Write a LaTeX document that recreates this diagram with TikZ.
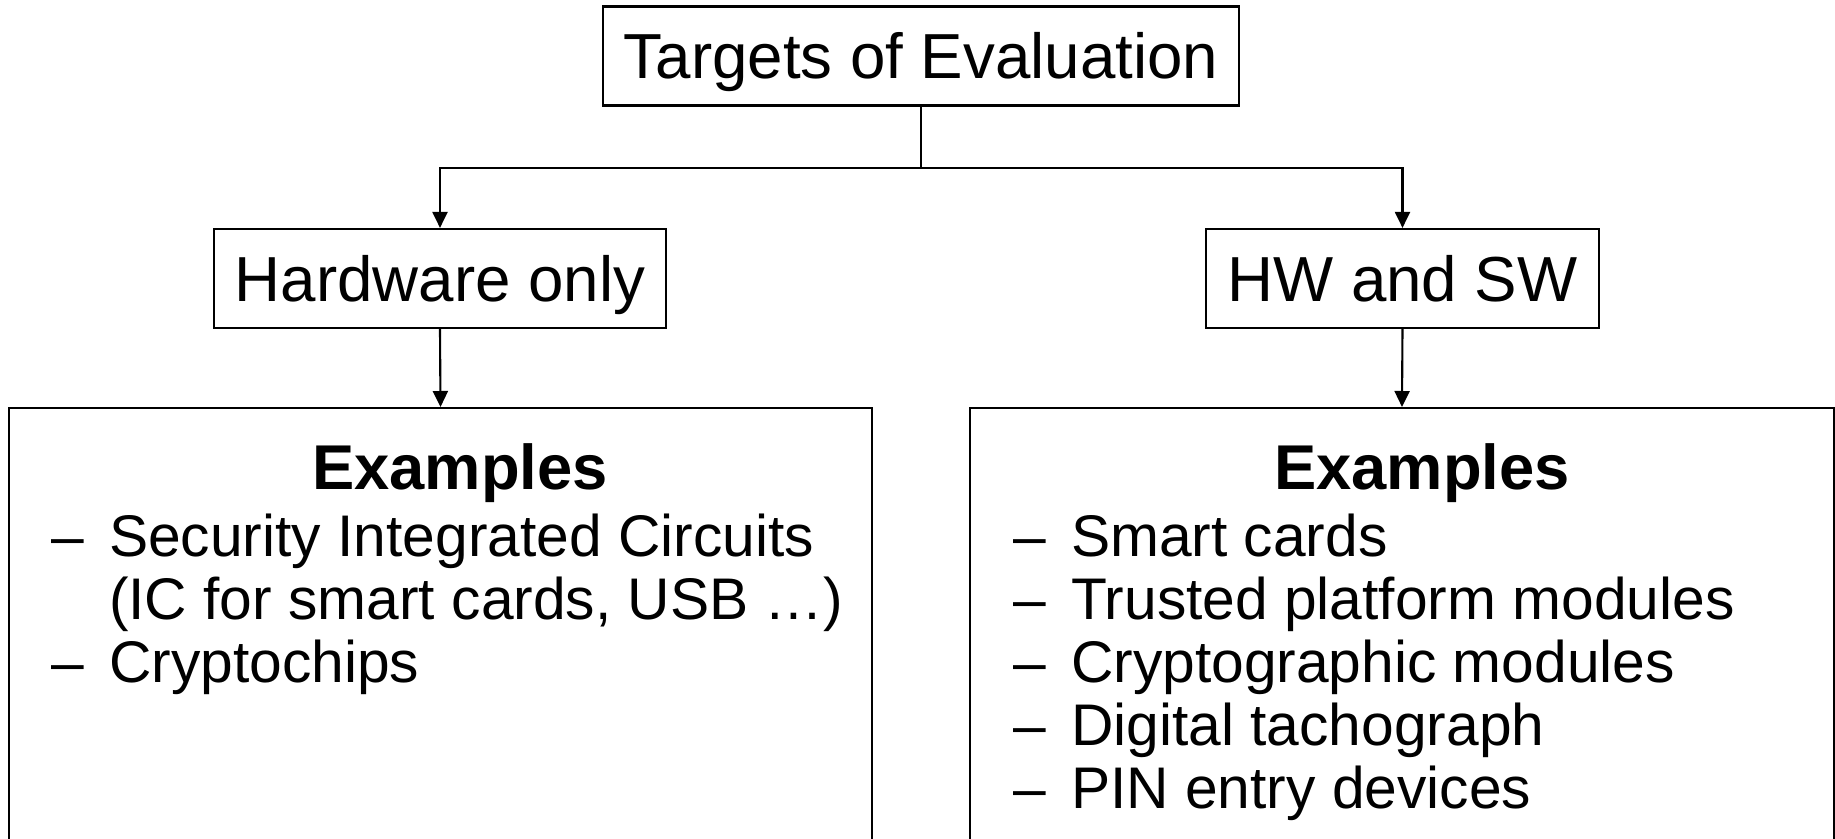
\documentclass[tikz,border=0pt]{standalone}
\usepackage{fontspec}
\setmainfont{Liberation Sans}
\usetikzlibrary{arrows.meta}

\newcommand{\itemdash}{\makebox[0.58cm][l]{–}}
\newcommand{\itemgap}{\hspace*{0.58cm}}

\begin{document}
\begin{tikzpicture}[x=0.01cm, y=-0.01cm, line width=0.6pt,
    box/.style={draw, inner xsep=0.21cm, inner ysep=0pt, minimum height=0.99cm,
        text height=12.96pt, text depth=0pt, font=\fontsize{18.1}{20}\selectfont},
    bigbox/.style={draw, minimum width=8.63cm, minimum height=6cm, anchor=north},
    head/.style={anchor=base, inner sep=0pt, font=\fontsize{18}{20}\selectfont\bfseries},
    item/.style={anchor=base west, inner sep=0pt, font=\fontsize{16.7}{18}\selectfont},
    arr/.style={-{Triangle[length=0.16cm, width=0.15cm]}}]

    % Cadre de l'image
    \useasboundingbox (0,0) rectangle (1835,839);

    % Boites du haut
    \node[box] (toe) at (921,56) {Targets of Evaluation};
    \node[box] (hw) at (440,278.5) {Hardware only};
    \node[box] (hwsw) at (1402.5,278.5) {HW and SW};

    % Boites d'exemples (coupees en bas)
    \node[bigbox] (exhw) at (440.5,407) {};
    \node[bigbox] (exsw) at (1402,407) {};

    % Liaisons
    \coordinate (fork) at (921,168);
    \draw (toe.south) -- (fork);
    \draw[arr] (fork) -| (hw.north);
    \draw[arr] (fork) -| (hwsw.north);
    \draw[arr] (hw.south) -- (exhw.north);
    \draw[arr] (hwsw.south) -- (exsw.north);

    % Titres des exemples
    \node[head] (headhw) at (460,489) {Examples};
    \node[head] (headsw) at (1422,489) {Examples};

    % Liste materiel seul
    \foreach \txt [count=\i] in {\itemdash Security Integrated Circuits,
        {\itemgap(IC for smart cards, USB …)}, \itemdash Cryptochips}{
        \node[item] (hwitem\i) at (50,493+63*\i) {\txt};
    }

    % Liste materiel et logiciel
    \foreach \txt [count=\i] in {Smart cards, Trusted platform modules,
        Cryptographic modules, Digital tachograph, PIN entry devices}{
        \node[item] (switem\i) at (1012,493+63*\i) {\itemdash\txt};
    }
\end{tikzpicture}
\end{document}
